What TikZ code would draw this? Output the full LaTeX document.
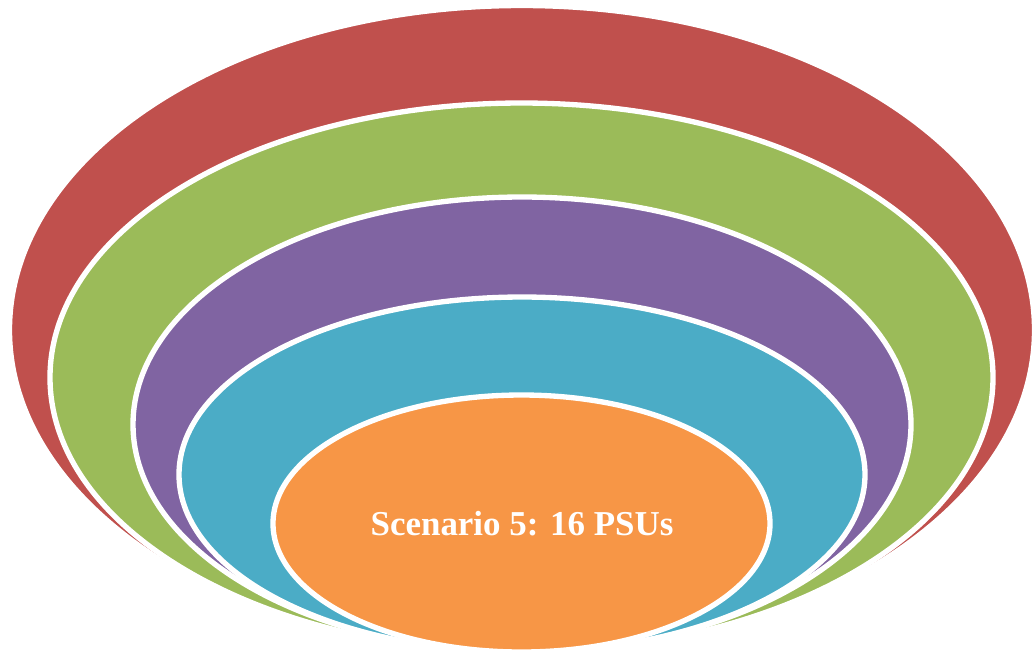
\documentclass[tikz,border=0pt]{standalone}
\usepackage{fontspec}
\setmainfont{Liberation Serif}
\definecolor{cred}{HTML}{C0504D}
\definecolor{cgreen}{HTML}{9BBB59}
\definecolor{cpurple}{HTML}{8064A2}
\definecolor{cteal}{HTML}{4BACC6}
\definecolor{corange}{HTML}{F79646}
\tikzset{ring/.style={draw=white, line width=4pt}}
\begin{document}
\begin{tikzpicture}[x=0.75pt,y=-0.75pt]
\useasboundingbox (0,0) rectangle (1034,651);
\clip (0,0) rectangle (1034,651);
\filldraw[ring, fill=cred]    (522,330)   ellipse [x radius=512.5, y radius=324.5];
\filldraw[ring, fill=cgreen]  (521.5,377.5) ellipse [x radius=471.5, y radius=274.5];
\filldraw[ring, fill=cpurple] (522,424.5) ellipse [x radius=389,   y radius=227.5];
\filldraw[ring, fill=cteal]   (522,474.5) ellipse [x radius=343,   y radius=177.5];
\filldraw[ring, fill=corange] (521.5,523.5) ellipse [x radius=248.5, y radius=128.5];
\node[anchor=base, text=white, font=\fontsize{26.2}{31}\selectfont\bfseries, inner sep=0pt] (label) at (522,535) {Scenario 5: 16 PSUs};
\end{tikzpicture}
\end{document}
